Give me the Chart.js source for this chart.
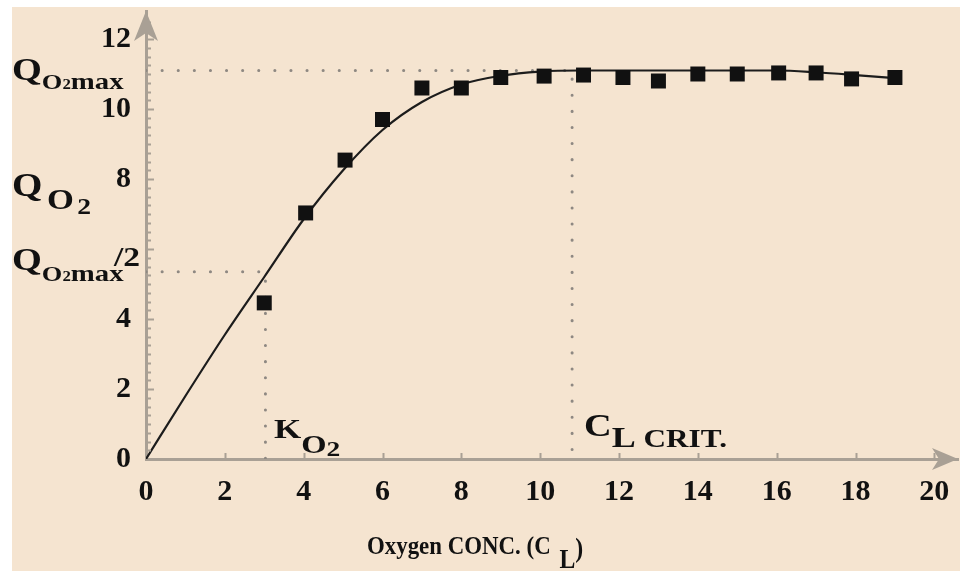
<!DOCTYPE html>
<html>
<head>
<meta charset="utf-8">
<script src="https://cdn.jsdelivr.net/npm/chart.js@4.4.1/dist/chart.umd.min.js"></script>
<style>
  html, body { margin: 0; padding: 0; background: #fff; overflow: hidden; }
  #wrap { width: 960px; height: 571px; position: relative; }
</style>
</head>
<body>
<div id="wrap"><canvas id="chart"></canvas></div>
<script>
// measured points (squares)
const pointX = [3, 4.05, 5.05, 6, 7, 8, 9, 10.1, 11.1, 12.1, 13, 14, 15, 16.05, 17, 17.9, 19];
const pointY = [4.46, 7.03, 8.54, 9.7, 10.6, 10.6, 10.9, 10.94, 10.97, 10.9, 10.8, 11.0, 11.0, 11.03, 11.03, 10.86, 10.9];

// fitted curve
const curveX = [0, 1, 2, 3, 4, 5, 6, 7, 8, 9, 10, 11, 12, 13, 14, 15, 16, 17, 18, 19];
const curveY = [0, 1.8, 3.55, 5.2, 6.85, 8.25, 9.4, 10.2, 10.7, 10.95, 11.07, 11.1, 11.1, 11.1, 11.1, 11.1, 11.1, 11.05, 10.97, 10.88];

// guide values
const qMax = 11.1;
const qHalf = 5.35;
const kO2 = 3.03;
const cCrit = 10.81;

const xTicks = [0, 2, 4, 6, 8, 10, 12, 14, 16, 18, 20];
const yTicks = [0, 2, 4, 6, 8, 10, 12];

const bg = '#F5E4D0';
const axisColor = '#A9A095';
const guideColor = '#8E8882';
const serif = '"Liberation Serif", "Times New Roman", serif';

const toXY = (xs, ys) => xs.map((x, i) => ({ x: x, y: ys[i] }));

// draw text made of several pieces (for subscripts), stretched horizontally
function drawRuns(ctx, x, stretch, parts) {
  ctx.save();
  ctx.translate(x, 0);
  ctx.scale(stretch, 1);
  let cx = 0;
  parts.forEach(p => {
    ctx.font = 'bold ' + p.s + 'px ' + serif;
    cx += p.dx || 0;
    ctx.fillText(p.t, cx, p.y);
    cx += ctx.measureText(p.t).width;
  });
  ctx.restore();
}

const decoPlugin = {
  id: 'deco',
  beforeDraw(chart) {
    const ctx = chart.ctx;
    ctx.save();
    ctx.fillStyle = bg;
    ctx.fillRect(12, 7, chart.width - 12, chart.height - 7);
    ctx.restore();
  },
  afterDraw(chart) {
    const ctx = chart.ctx;
    const xs = chart.scales.x, ys = chart.scales.y;
    const x0 = xs.getPixelForValue(0), y0 = ys.getPixelForValue(0);
    ctx.save();
    ctx.strokeStyle = axisColor;
    ctx.fillStyle = axisColor;
    ctx.lineWidth = 2;
    // y ticks inside
    for (let v = 0.25; v < 12.6; v += 0.25) {
      const py = Math.round(ys.getPixelForValue(v)) + 0.5;
      const len = Math.abs(v % 2) < 0.01 ? 8 : 5;
      ctx.beginPath();
      ctx.moveTo(x0, py);
      ctx.lineTo(x0 + len, py);
      ctx.stroke();
    }
    // x ticks inside
    xTicks.forEach(v => {
      if (v === 0) return;
      const px = Math.round(xs.getPixelForValue(v)) + 0.5;
      ctx.beginPath();
      ctx.moveTo(px, y0);
      ctx.lineTo(px, y0 - 6);
      ctx.stroke();
    });
    // arrow heads
    const top = chart.chartArea.top, right = chart.chartArea.right;
    ctx.beginPath();
    ctx.moveTo(x0, top);
    ctx.lineTo(x0 + 12, top + 30);
    ctx.lineTo(x0, top + 22);
    ctx.lineTo(x0 - 12, top + 30);
    ctx.closePath();
    ctx.fill();
    ctx.beginPath();
    ctx.moveTo(right, y0);
    ctx.lineTo(right - 26, y0 - 11);
    ctx.lineTo(right - 19, y0);
    ctx.lineTo(right - 26, y0 + 11);
    ctx.closePath();
    ctx.fill();

    // labels
    ctx.fillStyle = '#111';
    ctx.textAlign = 'left';
    ctx.textBaseline = 'alphabetic';
    drawRuns(ctx, 12, 1.2, [
      { t: 'Q', s: 32, y: 80 },
      { t: 'O', s: 22, y: 89 },
      { t: '2', s: 14, y: 89 },
      { t: 'max', s: 24, y: 89 }
    ]);
    drawRuns(ctx, 12, 1.15, [
      { t: 'Q', s: 34, y: 196 },
      { t: 'O', s: 30, y: 209, dx: 4 },
      { t: '2', s: 24, y: 214, dx: 3 }
    ]);
    drawRuns(ctx, 12, 1.2, [
      { t: 'Q', s: 32, y: 270 },
      { t: 'O', s: 22, y: 281 },
      { t: '2', s: 14, y: 281 },
      { t: 'max', s: 24, y: 281 },
      { t: '/2', s: 28, y: 266, dx: -8 }
    ]);
    drawRuns(ctx, 274, 1.25, [
      { t: 'K', s: 28, y: 438 },
      { t: 'O', s: 26, y: 453 },
      { t: '2', s: 22, y: 456 }
    ]);
    drawRuns(ctx, 584, 1.2, [
      { t: 'C', s: 32, y: 436 },
      { t: 'L', s: 30, y: 447 },
      { t: ' CRIT.', s: 26, y: 447 }
    ]);
    drawRuns(ctx, 367, 0.88, [
      { t: 'Oxygen CONC. (C', s: 26, y: 554 },
      { t: 'L', s: 27, y: 568, dx: 10 },
      { t: ')', s: 27, y: 557 }
    ]);
    ctx.restore();
  }
};

const guide = (data) => ({
  type: 'line',
  data: data,
  borderColor: guideColor,
  borderWidth: 3,
  borderDash: [0.1, 16],
  borderCapStyle: 'round',
  pointRadius: 0,
  fill: false,
  order: 3
});

new Chart(document.getElementById('chart'), {
  type: 'scatter',
  data: {
    datasets: [
      {
        label: 'measured',
        data: toXY(pointX, pointY),
        pointStyle: 'rect',
        pointRadius: 10.6,
        pointBackgroundColor: '#111',
        pointBorderWidth: 0,
        order: 0
      },
      {
        type: 'line',
        label: 'curve',
        data: toXY(curveX, curveY),
        borderColor: '#1c1c1c',
        borderWidth: 2.2,
        cubicInterpolationMode: 'monotone',
        pointRadius: 0,
        fill: false,
        order: 1
      },
      guide([{ x: 0, y: qMax }, { x: cCrit, y: qMax }, { x: cCrit, y: 0 }]),
      guide([{ x: 0, y: qHalf }, { x: kO2, y: qHalf }, { x: kO2, y: 0 }])
    ]
  },
  plugins: [decoPlugin],
  options: {
    responsive: true,
    maintainAspectRatio: false,
    animation: false,
    events: [],
    layout: { autoPadding: false, padding: { top: 11, left: 0, right: 2, bottom: 0 } },
    plugins: { legend: { display: false }, tooltip: { enabled: false } },
    scales: {
      x: {
        type: 'linear',
        min: 0,
        max: 20.6,
        afterFit(s) {
          s.height = 112;
          s.paddingLeft = 0; s.paddingRight = 0;
        },
        afterBuildTicks(s) { s.ticks = xTicks.map(v => ({ value: v })); },
        grid: { display: false, drawTicks: false },
        border: { display: true, color: axisColor, width: 3 },
        ticks: {
          padding: 15,
          color: '#111',
          font: { family: serif, size: 30, weight: 'bold' },
          maxRotation: 0,
          autoSkip: false
        }
      },
      y: {
        type: 'linear',
        min: 0,
        max: 12.8,
        afterFit(s) {
          s.width = 146;
          s.paddingTop = 0; s.paddingBottom = 0;
        },
        afterBuildTicks(s) { s.ticks = yTicks.map(v => ({ value: v })); },
        grid: { display: false, drawTicks: false },
        border: { display: true, color: axisColor, width: 3 },
        ticks: {
          padding: 15,
          color: '#111',
          font: { family: serif, size: 30, weight: 'bold' },
          autoSkip: false,
          callback: v => (v === 6 ? '' : v)
        }
      }
    }
  }
});
</script>
</body>
</html>
